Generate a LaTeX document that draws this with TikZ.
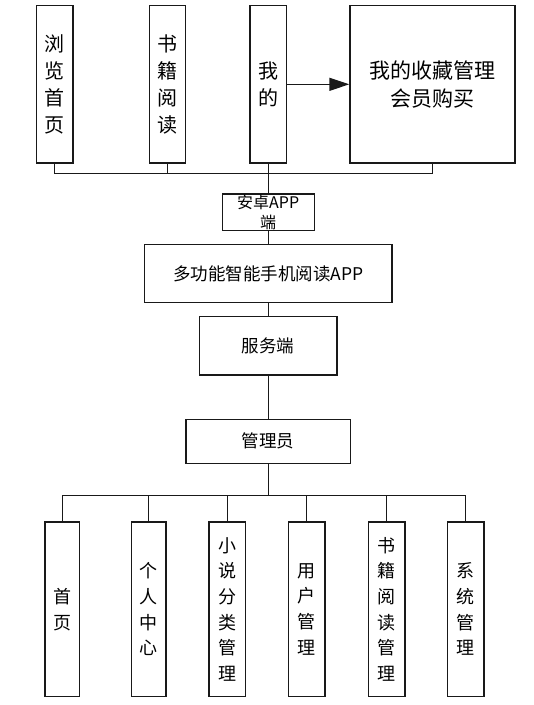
\documentclass[tikz,border=0pt]{standalone}
\usepackage{fontspec}
\setmainfont{Noto Sans CJK SC}
\usetikzlibrary{arrows.meta}
\begin{document}
\begin{tikzpicture}[x=1pt,y=-1pt,
  box/.style={draw=black!90,line width=1.3pt,inner sep=0pt,align=center,fill=white},
  vtop/.style={box,minimum width=36.5pt,minimum height=157.3pt,font=\fontsize{20}{27}\selectfont},
  vbot/.style={box,minimum height=174.7pt,font=\fontsize{18}{25.7}\selectfont},
  hbox/.style={box,font=\fontsize{17.5}{20}\selectfont},
  link/.style={draw=black!90,line width=1.3pt}]
\useasboundingbox (0,0) rectangle (534,705);
% top row
\node[vtop] (b1) at (54.7,84.3) {浏\\览\\首\\页};
\node[vtop] (b2) at (167.5,84.3) {书\\籍\\阅\\读};
\node[vtop] (b3) at (268.2,84.3) {我\\的};
\node[box,minimum width=165pt,minimum height=157.3pt,font=\fontsize{21}{28}\selectfont] (b4) at (432.5,84.3) {我的收藏管理\\会员购买};
\draw[link,-{Triangle[length=20pt,width=13pt]}] (b3.east) -- (b4.west);
% android box
\node[box,minimum width=92pt,minimum height=36.7pt,font=\fontsize{16}{20}\selectfont] (app) at (268.2,212.3) {安卓APP\\端};
\coordinate (busT) at (268.2,173.7);
\draw[link] (b1.south) |- (busT) -| (b4.south);
\draw[link] (b2.south) -- (b2.south |- busT);
\draw[link] (b3.south) -- (app.north);
% middle
\node[hbox,minimum width=247.4pt,minimum height=58pt] (main) at (268.2,273.7) {多功能智能手机阅读APP};
\node[hbox,minimum width=137.4pt,minimum height=58.3pt] (srv) at (268.2,345.8) {服务端};
\node[hbox,minimum width=164.3pt,minimum height=44pt] (adm) at (268.2,441.3) {管理员};
\draw[link] (app.south) -- (main.north);
\draw[link] (main.south) -- (srv.north);
\draw[link] (srv.south) -- (adm.north);
% bottom row
\node[vbot,minimum width=34.3pt] (c1) at (62.2,609.3) {首\\页};
\node[vbot,minimum width=34.3pt] (c2) at (148.8,609.3) {个\\人\\中\\心};
\node[vbot,minimum width=36.7pt] (c3) at (227.3,609.3) {小\\说\\分\\类\\管\\理};
\node[vbot,minimum width=36.3pt] (c4) at (306.8,609.3) {用\\户\\管\\理};
\node[vbot,minimum width=36.7pt] (c5) at (386.7,609.3) {书\\籍\\阅\\读\\管\\理};
\node[vbot,minimum width=36.3pt] (c6) at (465.8,609.3) {系\\统\\管\\理};
\coordinate (busB) at (268.2,495.7);
\draw[link] (adm.south) -- (busB);
\draw[link] (c1.north) |- (busB) -| (c6.north);
\foreach \n in {c2,c3,c4,c5} \draw[link] (\n.north) -- (\n.north |- busB);
\end{tikzpicture}
\end{document}
